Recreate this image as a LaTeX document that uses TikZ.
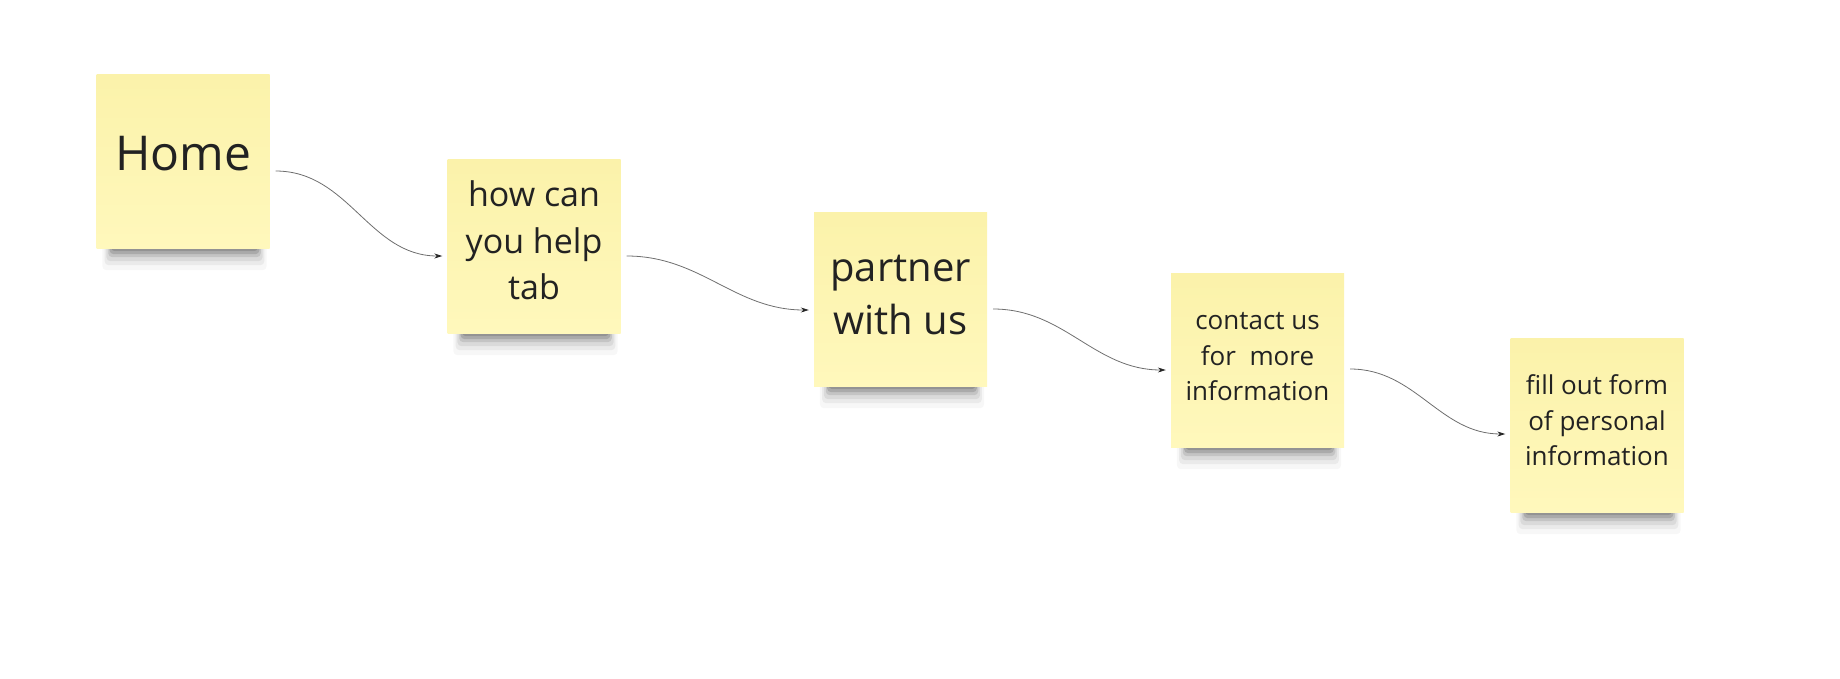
\documentclass[tikz,border=0pt]{standalone}
\usepackage{fontspec}
\setmainfont{Open Sans}
\usetikzlibrary{arrows.meta,backgrounds}
\definecolor{notetop}{RGB}{251,242,170}
\definecolor{notebot}{RGB}{255,248,188}
\definecolor{inkc}{RGB}{34,34,34}
\definecolor{linkc}{RGB}{110,110,110}
\tikzset{
  note/.style={rectangle, inner sep=0pt, minimum width=173pt, minimum height=174pt,
    top color=notetop, bottom color=notebot, text=inkc},
  link/.style={draw=linkc, line width=0.8pt, -{Stealth[length=8pt,width=5pt,color=black!85]}},
}
\newcommand{\notetext}[2]{\raisebox{#1}[\height][\depth]{\begin{tabular}{@{}c@{}}#2\end{tabular}}}
\newcommand{\noteshadow}[1]{%
  \foreach \d/\o in {3/0.14,6/0.13,9/0.10,13/0.07,17/0.05,22/0.03}{
    \fill[black, opacity=\o, rounded corners=4pt]
      ([xshift=16pt-\d*0.45pt,yshift=4pt]#1.south west) rectangle ([xshift=-13pt+\d*0.45pt,yshift=-\d*1pt]#1.south east);
  }%
}
\begin{document}
\begin{tikzpicture}[x=1pt,y=-1pt]
\useasboundingbox (0,0) rectangle (1840,678);
\node[note, font=\fontsize{48}{60}\selectfont] (home) at (183,161) {\notetext{2.5pt}{Home}};
\node[note, font=\fontsize{34}{46.5}\selectfont] (help) at (534,246) {\notetext{2pt}{how can\\you help\\tab}};
\node[note, font=\fontsize{40}{53}\selectfont] (partner) at (900.5,299) {\notetext{2pt}{partner\\with us}};
\node[note, font=\fontsize{26}{35.5}\selectfont] (contact) at (1257.5,360) {\notetext{1.7pt}{contact us\\for\ \ more\\information}};
\node[note, font=\fontsize{26}{35.5}\selectfont] (fill) at (1597,425) {\notetext{2pt}{fill out form\\of personal\\information}};
\begin{pgfonlayer}{background}
\noteshadow{home}
\noteshadow{help}
\noteshadow{partner}
\noteshadow{contact}
\noteshadow{fill}
\end{pgfonlayer}
\draw[link] ([xshift=6pt,yshift=-10pt]home.east) to[out=0,in=180] ([xshift=-5pt,yshift=-10pt]help.west);
\draw[link] ([xshift=6pt,yshift=-10pt]help.east) to[out=0,in=180] ([xshift=-5pt,yshift=-11pt]partner.west);
\draw[link] ([xshift=6pt,yshift=-10pt]partner.east) to[out=0,in=180] ([xshift=-5pt,yshift=-10pt]contact.west);
\draw[link] ([xshift=6pt,yshift=-9pt]contact.east) to[out=0,in=180] ([xshift=-5pt,yshift=-9pt]fill.west);
\end{tikzpicture}
\end{document}
